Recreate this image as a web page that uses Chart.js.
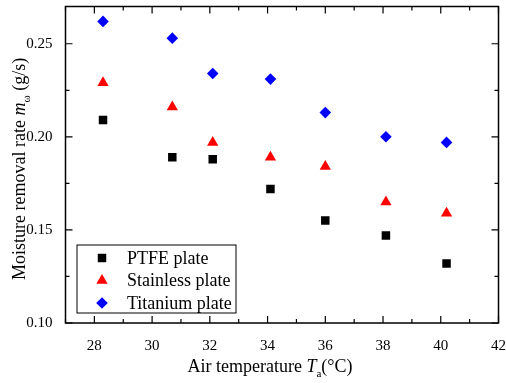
<!DOCTYPE html>
<html>
<head>
<meta charset="utf-8">
<script src="https://cdn.jsdelivr.net/npm/chart.js@4.4.1/dist/chart.umd.min.js"></script>
<style>
  html, body { margin: 0; padding: 0; background: #fff; }
  canvas { display: block; }
</style>
</head>
<body>
<canvas id="moistureChart" width="506" height="383"></canvas>
<script>
// Air temperature (°C) and moisture removal rate (g/s) per plate material
const temps = [28.3, 30.7, 32.1, 34.1, 36.0, 38.1, 40.2];
const ptfe = [0.209, 0.189, 0.188, 0.172, 0.155, 0.147, 0.132];
const stainless = [0.229, 0.216, 0.197, 0.189, 0.184, 0.165, 0.159];
const titanium = [0.262, 0.253, 0.234, 0.231, 0.213, 0.200, 0.197];

const seriesNames = ['PTFE plate', 'Stainless plate', 'Titanium plate'];
const xTicks = [28, 30, 32, 34, 36, 38, 40, 42];
const yTicks = [0.10, 0.15, 0.20, 0.25];

const serif = '"Liberation Serif", "Times New Roman", serif';

function toPoints(values) {
    return temps.map((t, i) => ({ x: t, y: values[i] }));
}

// Frame, inward ticks (major + minor) on all four sides, legend and rich axis titles
const decorPlugin = {
    id: 'decor',
    afterDraw(chart) {
        const ctx = chart.ctx;
        const area = chart.chartArea;
        const xs = chart.scales.x;
        const ys = chart.scales.y;
        ctx.save();
        ctx.strokeStyle = '#000';

        // ticks
        ctx.lineWidth = 1.2;
        ctx.beginPath();
        for (let v = 27; v <= 42.001; v += 1) {
            const px = xs.getPixelForValue(v);
            const len = (Math.round(v) % 2 === 0) ? 7 : 4;
            ctx.moveTo(px, area.bottom); ctx.lineTo(px, area.bottom - len);
            ctx.moveTo(px, area.top); ctx.lineTo(px, area.top + len);
        }
        for (let i = 0; i <= 6; i++) {
            const v = 0.10 + i * 0.025;
            const py = ys.getPixelForValue(v);
            const len = (i % 2 === 0) ? 7 : 4;
            ctx.moveTo(area.left, py); ctx.lineTo(area.left + len, py);
            ctx.moveTo(area.right, py); ctx.lineTo(area.right - len, py);
        }
        ctx.stroke();

        // frame
        ctx.lineWidth = 1.5;
        ctx.strokeRect(area.left, area.top, area.right - area.left, area.bottom - area.top);

        // legend
        const lx = area.left + 11.5, ly = area.bottom - 78;
        ctx.fillStyle = '#fff';
        ctx.fillRect(lx, ly, 159, 68);
        ctx.lineWidth = 1;
        ctx.strokeRect(lx, ly, 159, 68);
        ctx.font = '18px ' + serif;
        ctx.textBaseline = 'middle';
        chart.data.datasets.forEach((ds, i) => {
            const cy = ly + 13 + i * 22.5;
            const cx = lx + 25;
            ctx.fillStyle = ds.pointBackgroundColor;
            Chart.helpers.drawPoint(ctx, {
                pointStyle: ds.pointStyle,
                radius: ds.pointRadius,
                rotation: 0,
                borderWidth: 0
            }, cx, cy);
            ctx.fillStyle = '#000';
            ctx.fillText(ds.label, lx + 50, cy + 1);
        });

        // x axis title: Air temperature T_a(°C)
        ctx.textBaseline = 'alphabetic';
        let tx = area.left + 122;
        const tb = 372;
        ctx.font = '18px ' + serif;
        ctx.fillText('Air temperature ', tx, tb);
        tx += ctx.measureText('Air temperature ').width;
        ctx.font = 'italic 18px ' + serif;
        ctx.fillText('T', tx, tb);
        tx += ctx.measureText('T').width;
        ctx.font = '11px ' + serif;
        ctx.fillText('a', tx, tb + 5);
        tx += ctx.measureText('a').width;
        ctx.font = '18px ' + serif;
        ctx.fillText('(\u00B0C)', tx, tb);

        // y axis title: Moisture removal rate m_ω (g/s)
        ctx.translate(25, 280);
        ctx.rotate(-Math.PI / 2);
        let ty = 0;
        ctx.font = '18px ' + serif;
        ctx.fillText('Moisture removal rate ', ty, 0);
        ty += ctx.measureText('Moisture removal rate ').width;
        ctx.font = 'italic 18px ' + serif;
        ctx.fillText('m', ty, 0);
        ty += ctx.measureText('m').width;
        ctx.font = '11px ' + serif;
        ctx.fillText('\u03C9', ty, 5);
        ty += ctx.measureText('\u03C9').width;
        ctx.font = '18px ' + serif;
        ctx.fillText(' (g/s)', ty, 0);

        ctx.restore();
    }
};

const ctx = document.getElementById('moistureChart').getContext('2d');

new Chart(ctx, {
    type: 'scatter',
    data: {
        datasets: [
            {
                label: seriesNames[0],
                data: toPoints(ptfe),
                pointStyle: 'rect',
                pointRadius: 6,
                pointBackgroundColor: '#000000',
                pointBorderWidth: 0
            },
            {
                label: seriesNames[1],
                data: toPoints(stainless),
                pointStyle: 'triangle',
                pointRadius: 6.5,
                pointBackgroundColor: '#ff0000',
                pointBorderWidth: 0
            },
            {
                label: seriesNames[2],
                data: toPoints(titanium),
                pointStyle: 'rectRot',
                pointRadius: 5.8,
                pointBackgroundColor: '#0000ff',
                pointBorderWidth: 0
            }
        ]
    },
    options: {
        responsive: false,
        animation: false,
        layout: { padding: { top: 5, right: 7.5, left: 0, bottom: 0 } },
        scales: {
            x: {
                type: 'linear',
                min: 27,
                max: 42,
                grid: { display: false },
                border: { display: false },
                afterBuildTicks: (scale) => { scale.ticks = xTicks.map(v => ({ value: v })); },
                afterFit: (scale) => {
                    scale.height = 60;
                    scale.paddingLeft = 0;
                    scale.paddingRight = 0;
                },
                ticks: {
                    padding: 6,
                    color: '#000',
                    font: { family: serif, size: 15 }
                }
            },
            y: {
                type: 'linear',
                min: 0.10,
                max: 0.27,
                grid: { display: false },
                border: { display: false },
                afterBuildTicks: (scale) => { scale.ticks = yTicks.map(v => ({ value: v })); },
                afterFit: (scale) => {
                    scale.width = 65.5;
                    scale.paddingTop = 0;
                    scale.paddingBottom = 0;
                },
                ticks: {
                    padding: 5,
                    color: '#000',
                    font: { family: serif, size: 15 },
                    callback: (value) => value.toFixed(2)
                }
            }
        },
        plugins: {
            legend: { display: false },
            tooltip: { enabled: false }
        }
    },
    plugins: [decorPlugin]
});
</script>
</body>
</html>
